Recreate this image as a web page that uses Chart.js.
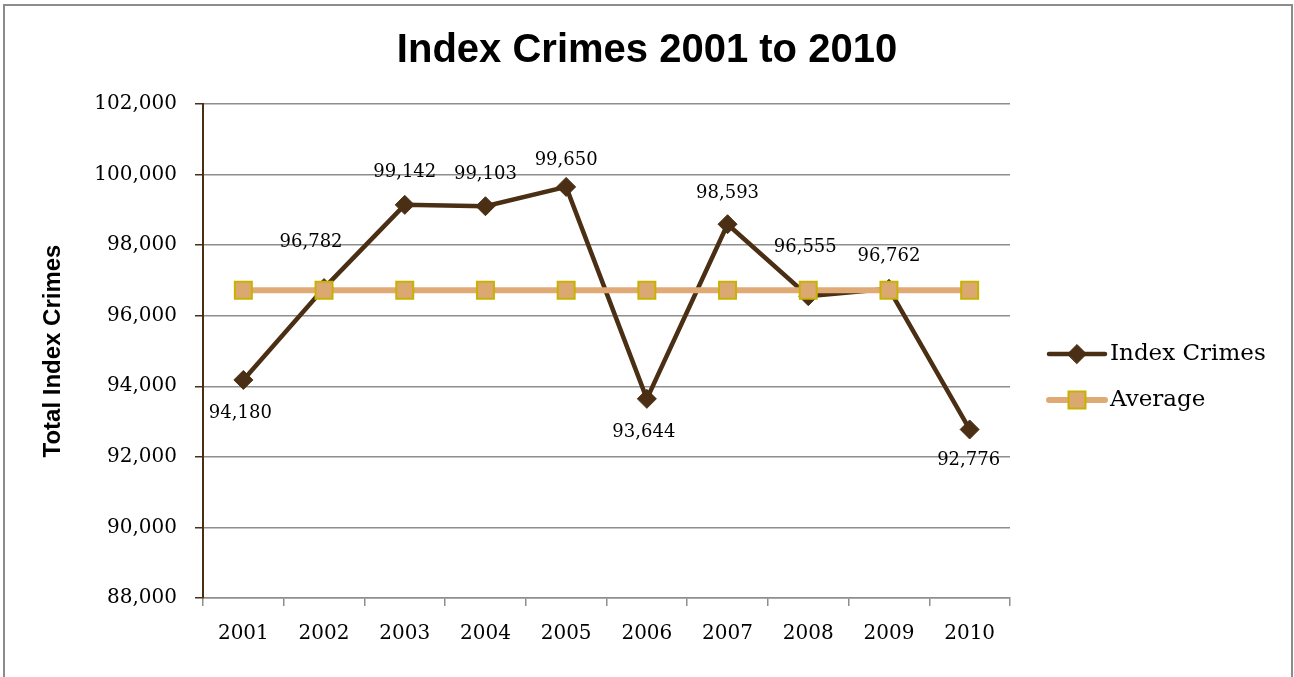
<!DOCTYPE html>
<html>
<head>
<meta charset="utf-8">
<title>Index Crimes 2001 to 2010</title>
<script src="https://cdn.jsdelivr.net/npm/chart.js@4.4.1/dist/chart.umd.min.js"></script>
<style>
    body { margin: 0; background: #fff; }
    #wrap { position: relative; width: 1294px; height: 677px; }
</style>
</head>
<body>
<div id="wrap"><canvas id="chart" width="1294" height="677"></canvas></div>
<script>
// ================= DATA =================
const years = ["2001", "2002", "2003", "2004", "2005", "2006", "2007", "2008", "2009", "2010"];
const indexCrimes = [94180, 96782, 99142, 99103, 99650, 93644, 98593, 96555, 96762, 92776];
const averageCrimes = [96719, 96719, 96719, 96719, 96719, 96719, 96719, 96719, 96719, 96719];
const yTicks = [88000, 90000, 92000, 94000, 96000, 98000, 100000, 102000];

// where each value label sits relative to its point (dx, dy)
const labelOffsets = [[-3, 33], [-13, -46], [0, -33], [0, -32], [0, -27], [-3, 33], [0, -31], [-3, -49], [0, -32], [-1, 31]];

const BROWN = "#4a2f14";
const TAN = "#e0aa76";
const GRID = "#8e8e8e";
const SERIF = "'DejaVu Serif', serif";

// outer frame
const framePlugin = {
    id: "frame",
    beforeDraw(chart) {
        const ctx = chart.ctx;
        ctx.save();
        ctx.fillStyle = "#fff";
        ctx.fillRect(0, 0, chart.width, chart.height);
        ctx.strokeStyle = "#8c8c8c";
        ctx.lineWidth = 2;
        ctx.strokeRect(4, 5, 1288, 700);
        ctx.restore();
    }
};

// value labels for Index Crimes
const labelPlugin = {
    id: "valueLabels",
    afterDatasetsDraw(chart) {
        const ctx = chart.ctx;
        const meta = chart.getDatasetMeta(0);
        ctx.save();
        ctx.font = "18px " + SERIF;
        ctx.fillStyle = "#000";
        ctx.textAlign = "center";
        ctx.textBaseline = "middle";
        meta.data.forEach((pt, i) => {
            const off = labelOffsets[i];
            ctx.fillText(indexCrimes[i].toLocaleString("en-US"), pt.x + off[0], pt.y + off[1]);
        });
        ctx.restore();
    }
};

// legend: line + marker samples, like the office chart
const legendPlugin = {
    id: "lineLegend",
    afterDraw(chart) {
        const ctx = chart.ctx;
        const x0 = 1049, x1 = 1105, textX = 1110;
        const rows = [354, 400];
        ctx.save();
        chart.data.datasets.forEach((ds, i) => {
            const y = rows[i];
            ctx.strokeStyle = ds.borderColor;
            ctx.lineWidth = ds.borderWidth;
            ctx.lineCap = "round";
            ctx.beginPath();
            ctx.moveTo(x0, y);
            ctx.lineTo(x1, y);
            ctx.stroke();
            ctx.fillStyle = ds.pointBackgroundColor;
            ctx.strokeStyle = ds.pointBorderColor;
            ctx.lineWidth = ds.pointBorderWidth;
            Chart.helpers.drawPoint(ctx, { pointStyle: ds.pointStyle, radius: ds.pointRadius, borderWidth: ds.pointBorderWidth }, (x0 + x1) / 2, y);
            ctx.fillStyle = "#000";
            ctx.font = "23px " + SERIF;
            ctx.textAlign = "left";
            ctx.textBaseline = "middle";
            ctx.fillText(ds.label, textX, y);
        });
        ctx.restore();
    }
};

const ctx = document.getElementById("chart").getContext("2d");

new Chart(ctx, {
    type: "line",
    data: {
        labels: years,
        datasets: [
            {
                label: "Index Crimes",
                data: indexCrimes,
                borderColor: BROWN,
                borderWidth: 4.5,
                pointStyle: "rectRot",
                pointRadius: 9.5,
                pointBackgroundColor: BROWN,
                pointBorderColor: BROWN,
                pointBorderWidth: 1,
                tension: 0,
                order: 1
            },
            {
                label: "Average",
                data: averageCrimes,
                borderColor: TAN,
                borderWidth: 6,
                pointStyle: "rect",
                pointRadius: 12,
                pointBackgroundColor: "#dca872",
                pointBorderColor: "#c8b200",
                pointBorderWidth: 2,
                tension: 0,
                order: 0
            }
        ]
    },
    options: {
        responsive: false,
        animation: false,
        devicePixelRatio: 1,
        layout: {
            padding: { left: 4, top: 5, right: 4, bottom: 19 }
        },
        plugins: {
            legend: { display: false },
            tooltip: { enabled: false },
            title: {
                display: true,
                text: "Index Crimes 2001 to 2010",
                color: "#000",
                font: { family: "'Liberation Sans', Arial, sans-serif", size: 40, weight: "bold" },
                padding: { top: 22, bottom: 29 }
            }
        },
        scales: {
            x: {
                offset: true,
                grid: {
                    offset: true,
                    drawOnChartArea: false,
                    drawTicks: true,
                    tickLength: 8,
                    color: GRID,
                    lineWidth: 1.5
                },
                border: { color: GRID, width: 1.5 },
                ticks: {
                    color: "#000",
                    padding: 16,
                    maxRotation: 0,
                    font: { family: SERIF, size: 20 }
                },
                afterFit(scale) { scale.height = 60; }
            },
            y: {
                min: 88000,
                max: 102000,
                afterBuildTicks(scale) {
                    scale.ticks = yTicks.map(v => ({ value: v }));
                },
                grid: {
                    color: GRID,
                    lineWidth: 1.5,
                    tickColor: BROWN,
                    tickLength: 8
                },
                border: { color: BROWN, width: 2 },
                ticks: {
                    color: "#000",
                    padding: 18,
                    font: { family: SERIF, size: 20 },
                    callback: v => v.toLocaleString("en-US")
                },
                title: {
                    display: true,
                    text: "Total Index Crimes",
                    color: "#000",
                    font: { family: "'Liberation Sans', Arial, sans-serif", size: 24, weight: "bold" },
                    padding: { top: 35, bottom: 0 }
                },
                afterFit(scale) { scale.width = 199; }
            },
            // empty right-hand box that keeps room for the legend
            legendRoom: {
                type: "linear",
                position: "right",
                grid: { display: false },
                border: { display: false },
                ticks: { display: false },
                afterFit(scale) { scale.width = 280; }
            }
        }
    },
    plugins: [framePlugin, labelPlugin, legendPlugin]
});
</script>
</body>
</html>
